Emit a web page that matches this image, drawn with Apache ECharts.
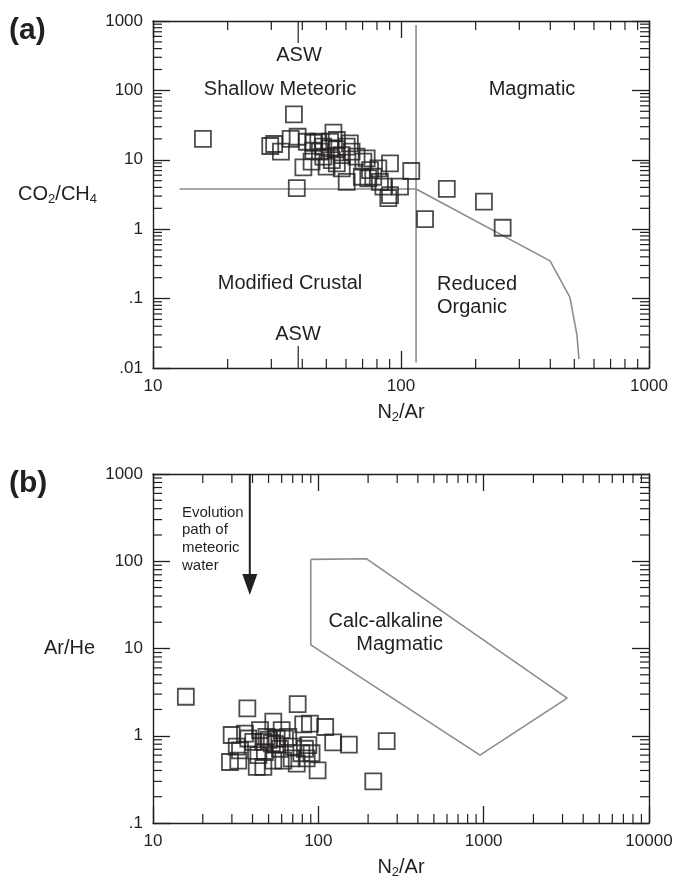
<!DOCTYPE html>
<html>
<head>
<meta charset="utf-8" />
<title>N2/Ar diagrams</title>
<script src="https://cdn.jsdelivr.net/npm/echarts/dist/echarts.min.js"></script>
<style>
  html, body { margin: 0; padding: 0; background: #fff; }
</style>
</head>
<body>
<div id="main" style="width: 678px;height:881px;"></div>
<script type="text/javascript">
// ---- data ----
// (a) CO2/CH4 vs N2/Ar
var aN2Ar = [15.9, 37, 38, 29.7, 30.8, 32.8, 35.9, 38.3, 41.7, 44.3, 46.4, 53.4, 48.6, 51.8, 55.1,
    60.4, 63.2, 62.2, 40.4, 43.6, 48.6, 50.1, 52.6, 55.1, 57.7, 60.4, 66.2, 70.5, 72.7, 69.5,
    73.8, 77.3, 81, 90.3, 82.2, 84.9, 88.9, 90.3, 99.1, 110, 75, 44.3, 47.1, 57.7, 51.8,
    55.1, 153, 216, 125, 257];
var aCO2CH4 = [20, 45, 3.9, 15.8, 16.9, 13.1, 20, 21.5, 18.2, 17.6, 18.2, 24.6, 15.5, 14.6, 14.2,
    15.5, 13.1, 17.3, 7.8, 9.4, 11.1, 8.0, 9.9, 8.9, 7.5, 4.8, 11.1, 9.4, 10.5, 5.7,
    5.4, 5.7, 7.5, 8.9, 4.8, 4.1, 2.8, 3.1, 4.1, 6.9, 7.1, 13.5, 13.1, 11.7, 18.2,
    19.3, 3.8, 2.5, 1.4, 1.05];
// (b) Ar/He vs N2/Ar
var bN2Ar = [15.8, 37.2, 75, 259, 215, 153, 123, 110, 89, 81, 99, 53.4, 29.9, 29.2, 32.8,
    32.1, 36, 37.7, 42.4, 46.5, 43.4, 46.5, 48.6, 52.3, 56, 58.6, 62.8, 61.4, 69, 74,
    79, 83, 91, 87, 70.5, 65.8, 47.5, 53.4, 40.4, 44.4, 60, 33.6, 50, 55, 85];
var bArHe = [2.8, 2.06, 2.3, 0.87, 0.30, 0.79, 0.84, 1.26, 1.38, 1.35, 0.40, 1.45, 1.02, 0.50, 0.52,
    0.75, 1.06, 0.93, 0.44, 0.44, 0.60, 0.85, 0.97, 0.82, 0.93, 0.71, 0.93, 0.52, 0.55, 0.48,
    0.63, 0.71, 0.63, 0.78, 0.75, 0.97, 0.65, 0.52, 0.85, 1.16, 1.16, 0.68, 0.9, 0.8, 0.55];

// field boundaries
var aswN2Ar = 38.5;
var boundaryVertX = [115, 115];
var boundaryVertY = [0.012, 875];
var boundaryCurveX = [12.8, 115, 399, 480, 512, 522];
var boundaryCurveY = [3.8, 3.8, 0.35, 0.104, 0.030, 0.0135];
var calcAlkX = [90, 195, 3200, 950, 90, 90];
var calcAlkY = [105, 107, 2.7, 0.6, 11, 105];
var arrowFrom = [aswN2Ar, 1000];
var arrowTo = [aswN2Ar, 41];

// minor tick values
var aXMinor = [20, 30, 40, 50, 60, 70, 80, 90, 200, 300, 400, 500, 600, 700, 800, 900];
var aYMinor = [0.02, 0.03, 0.04, 0.05, 0.06, 0.07, 0.08, 0.09, 0.2, 0.3, 0.4, 0.5, 0.6, 0.7, 0.8, 0.9,
    2, 3, 4, 5, 6, 7, 8, 9, 20, 30, 40, 50, 60, 70, 80, 90, 200, 300, 400, 500, 600, 700, 800, 900];
var bXMinor = [20, 30, 40, 50, 60, 70, 80, 90, 200, 300, 400, 500, 600, 700, 800, 900,
    2000, 3000, 4000, 5000, 6000, 7000, 8000, 9000];
var bYMinor = [0.2, 0.3, 0.4, 0.5, 0.6, 0.7, 0.8, 0.9, 2, 3, 4, 5, 6, 7, 8, 9,
    20, 30, 40, 50, 60, 70, 80, 90, 200, 300, 400, 500, 600, 700, 800, 900];

// ---- helpers ----
var INK = '#231f20';
var GRAY = '#8c8c8c';
var FONT = '"Liberation Sans", Arial, Helvetica, sans-serif';

function zip(xs, ys) {
    var out = [];
    for (var i = 0; i < xs.length; i++) out.push([xs[i], ys[i]]);
    return out;
}

// tick items: [x, y, side(0 bottom,1 top,2 left,3 right), length]
function tickItems(xMinor, yMinor, xRef, yRef) {
    var d = [];
    xMinor.forEach(function (v) { d.push([v, yRef, 0, 9]); d.push([v, yRef, 1, 9]); });
    yMinor.forEach(function (v) { d.push([xRef, v, 2, 9]); d.push([xRef, v, 3, 9]); });
    return d;
}
var aTicks = tickItems(aXMinor, aYMinor, 100, 1);
aTicks.push([aswN2Ar, 1, 0, 22]);
aTicks.push([aswN2Ar, 1, 1, 22]);
var bTicks = tickItems(bXMinor, bYMinor, 100, 1);

function renderTick(params, api) {
    var p = api.coord([api.value(0), api.value(1)]);
    var cs = params.coordSys;
    var side = api.value(2), len = api.value(3);
    var s;
    if (side === 0) s = { x1: p[0], y1: cs.y + cs.height, x2: p[0], y2: cs.y + cs.height - len };
    else if (side === 1) s = { x1: p[0], y1: cs.y, x2: p[0], y2: cs.y + len };
    else if (side === 2) s = { x1: cs.x, y1: p[1], x2: cs.x + len, y2: p[1] };
    else s = { x1: cs.x + cs.width, y1: p[1], x2: cs.x + cs.width - len, y2: p[1] };
    return { type: 'line', shape: s, style: { stroke: INK, lineWidth: 1.2 } };
}

function renderArrow(params, api) {
    var a = api.coord([api.value(0), api.value(1)]);
    var b = api.coord([api.value(2), api.value(3)]);
    return {
        type: 'group',
        children: [
            { type: 'line', shape: { x1: a[0], y1: a[1], x2: b[0], y2: b[1] - 18 },
              style: { stroke: INK, lineWidth: 2 } },
            { type: 'polygon', shape: { points: [[b[0] - 7.5, b[1] - 21], [b[0] + 7.5, b[1] - 21], [b[0], b[1]]] },
              style: { fill: INK } }
        ]
    };
}

function logAxis(grid, pos, min, max, labels) {
    var ax = {
        type: 'log', logBase: 10, gridIndex: grid, position: pos, min: min, max: max,
        axisLine: { show: true, lineStyle: { color: INK, width: 1.4 } },
        axisTick: { show: true, inside: true, length: 17, lineStyle: { color: INK, width: 1.3 } },
        splitLine: { show: false },
        minorTick: { show: false },
        axisLabel: { show: labels, color: INK, fontSize: 17, fontFamily: FONT, margin: 10,
            showMinLabel: true, showMaxLabel: true, hideOverlap: false,
            formatter: function (v) { return v < 1 ? String(v).replace(/^0/, '') : String(v); } }
    };
    return ax;
}

var subRich = { sub: { fontSize: 13, fontFamily: FONT, color: INK, padding: [10, 0, 0, 0] } };

var xa0 = logAxis(0, 'bottom', 10, 1000, true);
xa0.name = 'N{sub|2}/Ar'; xa0.nameLocation = 'middle'; xa0.nameGap = 33;
xa0.nameTextStyle = { fontSize: 20, color: INK, fontFamily: FONT, rich: subRich };
var xa1 = logAxis(0, 'top', 10, 1000, false);
var ya0 = logAxis(0, 'left', 0.01, 1000, true);
ya0.name = 'CO{sub|2}/CH{sub|4}'; ya0.nameLocation = 'middle'; ya0.nameRotate = 0; ya0.nameGap = 56;
ya0.nameTextStyle = { fontSize: 20, color: INK, fontFamily: FONT, rich: subRich };
var ya1 = logAxis(0, 'right', 0.01, 1000, false);

var xb0 = logAxis(1, 'bottom', 10, 10000, true);
xb0.name = 'N{sub|2}/Ar'; xb0.nameLocation = 'middle'; xb0.nameGap = 33;
xb0.nameTextStyle = { fontSize: 20, color: INK, fontFamily: FONT, rich: subRich };
var xb1 = logAxis(1, 'top', 10, 10000, false);
var yb0 = logAxis(1, 'left', 0.1, 1000, true);
yb0.name = 'Ar/He'; yb0.nameLocation = 'middle'; yb0.nameRotate = 0; yb0.nameGap = 58;
yb0.nameTextStyle = { fontSize: 20, color: INK, fontFamily: FONT };
var yb1 = logAxis(1, 'right', 0.1, 1000, false);

function txt(x, y, text, size, align, extra) {
    var st = { text: text, fontSize: size, fontFamily: FONT, fill: INK, align: align || 'center', verticalAlign: 'middle' };
    if (extra) for (var k in extra) st[k] = extra[k];
    return { type: 'text', x: x, y: y, style: st, silent: true };
}

var squareStyle = { color: 'rgba(0,0,0,0)', borderColor: INK, borderWidth: 1.8 };

var myChart = echarts.init(document.getElementById('main'), null, { renderer: 'canvas' });
var option = {
    animation: false,
    textStyle: { fontFamily: FONT },
    grid: [
        { left: 153, top: 21, width: 496, height: 347, containLabel: false, outerBoundsMode: 'none' },
        { left: 153, top: 474, width: 496, height: 349, containLabel: false, outerBoundsMode: 'none' }
    ],
    xAxis: [xa0, xa1, xb0, xb1],
    yAxis: [ya0, ya1, yb0, yb1],
    graphic: [
        txt(9, 31, '(a)', 30, 'left', { fontWeight: 'bold' }),
        txt(9, 484, '(b)', 30, 'left', { fontWeight: 'bold' }),
        txt(299, 55, 'ASW', 20),
        txt(280, 89, 'Shallow Meteoric', 20),
        txt(532, 89, 'Magmatic', 20),
        txt(290, 283, 'Modified Crustal', 20),
        txt(437, 296, 'Reduced\nOrganic', 20, 'left', { lineHeight: 23 }),
        txt(298, 334, 'ASW', 20),
        txt(182, 539, 'Evolution\npath of\nmeteoric\nwater', 15, 'left', { lineHeight: 17.7 }),
        txt(443, 633, 'Calc-alkaline\nMagmatic', 20, 'right', { lineHeight: 23 })
    ],
    series: [
        { type: 'custom', xAxisIndex: 0, yAxisIndex: 0, renderItem: renderTick, data: aTicks, silent: true, z: 1 },
        { type: 'custom', xAxisIndex: 2, yAxisIndex: 2, renderItem: renderTick, data: bTicks, silent: true, z: 1 },
        { type: 'line', xAxisIndex: 0, yAxisIndex: 0, data: zip(boundaryVertX, boundaryVertY), symbol: 'none',
          lineStyle: { color: GRAY, width: 1.6 }, silent: true, z: 2 },
        { type: 'line', xAxisIndex: 0, yAxisIndex: 0, data: zip(boundaryCurveX, boundaryCurveY), symbol: 'none',
          lineStyle: { color: GRAY, width: 1.6 }, silent: true, z: 2 },
        { type: 'line', xAxisIndex: 2, yAxisIndex: 2, data: zip(calcAlkX, calcAlkY), symbol: 'none',
          lineStyle: { color: GRAY, width: 1.6 }, silent: true, z: 2 },
        { type: 'custom', xAxisIndex: 2, yAxisIndex: 2, renderItem: renderArrow,
          encode: { x: [0, 2], y: [1, 3] },
          data: [[arrowFrom[0], arrowFrom[1], arrowTo[0], arrowTo[1]]], silent: true, z: 3 },
        { type: 'scatter', xAxisIndex: 0, yAxisIndex: 0, data: zip(aN2Ar, aCO2CH4), symbol: 'rect',
          symbolSize: 16, itemStyle: squareStyle, silent: true, z: 4 },
        { type: 'scatter', xAxisIndex: 2, yAxisIndex: 2, data: zip(bN2Ar, bArHe), symbol: 'rect',
          symbolSize: 16, itemStyle: squareStyle, silent: true, z: 4 }
    ]
};
myChart.setOption(option);
</script>
</body>
</html>
